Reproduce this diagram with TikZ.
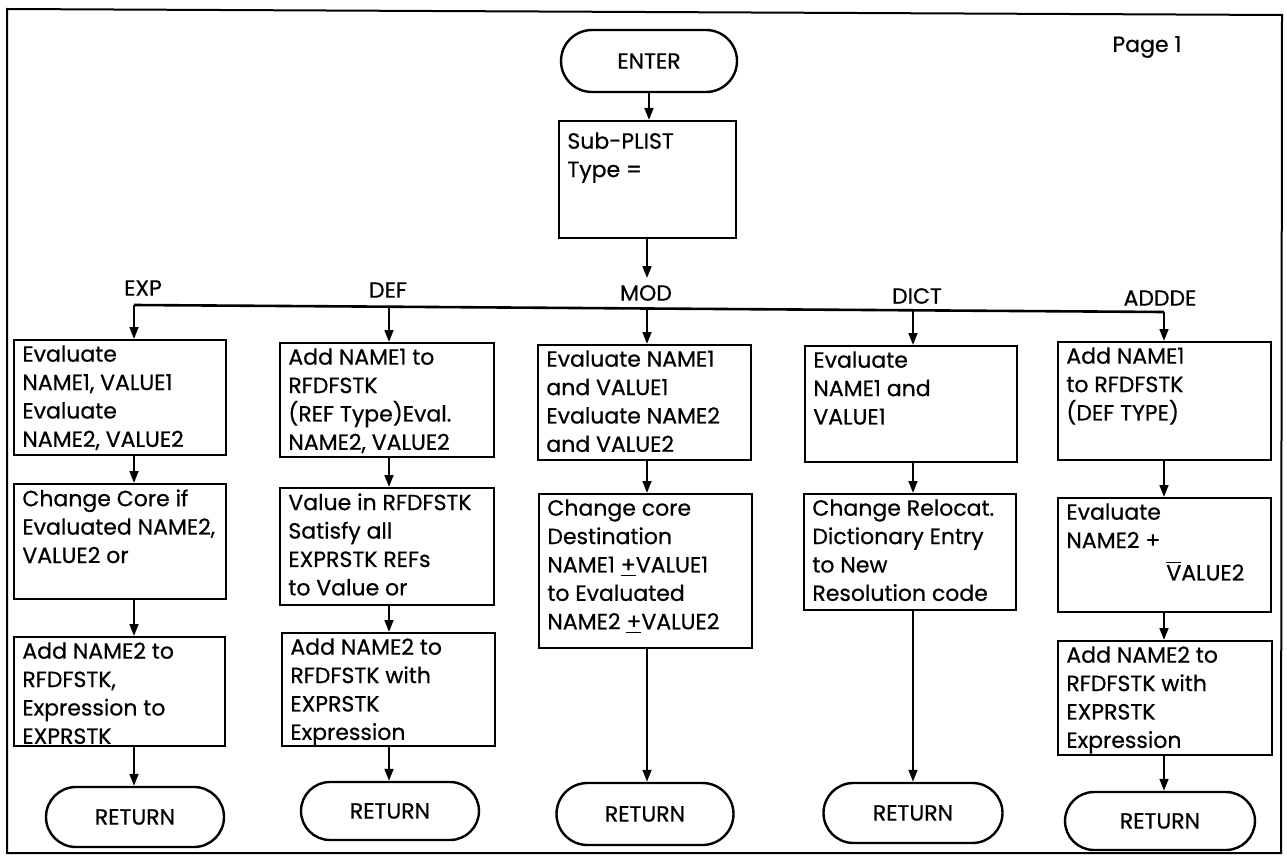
\documentclass[tikz,border=0pt]{standalone}
\usepackage{fontspec}
\setmainfont{Poppins}[FakeBold=0.6]
\usepackage{tikz}
\usetikzlibrary{arrows.meta, shapes.misc}

\tikzset{
  flow/.style={line width=1.1pt, -{Triangle[length=6pt,width=4.4pt]}},
  procbox/.style={draw, line width=1.2pt, anchor=north west, inner sep=0pt},
  boxtext/.style={anchor=north west, align=left, inner xsep=4.5pt, inner ysep=3pt},
  termnode/.style={draw, line width=1.2pt, rounded rectangle, inner sep=0pt},
}

\begin{document}
\begin{tikzpicture}[x=0.5pt, y=-0.5pt, font=\fontsize{11}{14.2}\selectfont]
  \useasboundingbox (0,0) rectangle (1287,856);
  \draw[line width=1pt] (7,9) -- (1282,15) -- (1281,853) -- (7,853) -- cycle;
  \node (page) at (1147,47) {Page 1};

  % entry and case switch
  \node[termnode, minimum width=88pt, minimum height=31pt] (enter) at (649,61) {ENTER};
  \node[procbox, minimum width=88.5pt, minimum height=58.5pt,
        label={[boxtext, inner ysep=6pt]north west:{Sub-PLIST\\Type =}}] (sub) at (558,120) {};
  \draw[flow] (enter.south) -- (enter.south |- sub.north);

  % branch bus
  \coordinate (bexp)  at (134,305);
  \coordinate (bdef)  at (389,306.7);
  \coordinate (bmod)  at (647,308.5);
  \coordinate (bdict) at (913,310.3);
  \coordinate (badd)  at (1164,312);
  \draw[line width=1.3pt] (bexp) -- (bdef) -- (bmod) -- (bdict) -- (badd);
  \node (lexp)  at (143,288) {EXP};
  \node (ldef)  at (388,290) {DEF};
  \node (lmod)  at (646,293) {MOD};
  \node (ldict) at (917,296) {DICT};
  \node (ladd)  at (1160,298) {ADDDE};
  \draw[flow] (sub.south -| bmod) -- (lmod.north -| bmod);

  % EXP column
  \node[procbox, minimum width=106pt, minimum height=57.5pt,
        label={[boxtext]north west:{Evaluate\\NAME1, VALUE1\\Evaluate\\NAME2, VALUE2}}] (exp1) at (13,339) {};
  \node[procbox, minimum width=106pt, minimum height=57.5pt,
        label={[boxtext]north west:{Change Core if\\Evaluated NAME2,\\VALUE2 or}}] (exp2) at (13,483) {};
  \node[procbox, minimum width=105.5pt, minimum height=54.5pt,
        label={[boxtext]north west:{Add NAME2 to\\RFDFSTK,\\Expression to\\EXPRSTK}}] (exp3) at (13,636) {};
  \node[termnode, minimum width=89pt, minimum height=30pt] (rexp) at (135,817) {RETURN};

  % DEF column
  \node[procbox, minimum width=107pt, minimum height=57pt,
        label={[boxtext]north west:{Add NAME1 to\\RFDFSTK\\(REF Type)Eval.\\NAME2, VALUE2}}] (def1) at (279,342) {};
  \node[procbox, minimum width=107pt, minimum height=58.5pt,
        label={[boxtext]north west:{Value in RFDFSTK\\Satisfy all\\EXPRSTK REFs\\to Value or}}] (def2) at (279,487) {};
  \node[procbox, minimum width=106.5pt, minimum height=56.5pt,
        label={[boxtext]north west:{Add NAME2 to\\RFDFSTK with\\EXPRSTK\\Expression}}] (def3) at (281,632) {};
  \node[termnode, minimum width=89pt, minimum height=29pt] (rdef) at (390,811) {RETURN};

  % MOD column
  \node[procbox, minimum width=106.5pt, minimum height=57.5pt,
        label={[boxtext]north west:{Evaluate NAME1\\and VALUE1\\Evaluate NAME2\\and VALUE2}}] (mod1) at (537,344) {};
  \node[procbox, minimum width=106.5pt, minimum height=77pt,
        label={[boxtext]north west:{Change core\\Destination\\NAME1 \underline{+}VALUE1\\to Evaluated\\NAME2 \underline{+}VALUE2}}] (mod2) at (538,493) {};
  \node[termnode, minimum width=88.5pt, minimum height=31pt] (rmod) at (645,814) {RETURN};

  % DICT column
  \node[procbox, minimum width=106pt, minimum height=58pt,
        label={[boxtext]north west:{Evaluate\\NAME1 and\\VALUE1}}] (dict1) at (804,345) {};
  \node[procbox, minimum width=106pt, minimum height=58pt,
        label={[boxtext]north west:{Change Relocat.\\Dictionary Entry\\to New\\Resolution code}}] (dict2) at (803,493) {};
  \node[termnode, minimum width=89.5pt, minimum height=30pt] (rdict) at (913,813) {RETURN};

  % ADDDE column
  \node[procbox, minimum width=106.5pt, minimum height=59pt,
        label={[boxtext]north west:{Add NAME1\\to RFDFSTK\\(DEF TYPE)}}] (add1) at (1057,341) {};
  \node[procbox, minimum width=106.5pt, minimum height=57pt,
        label={[boxtext]north west:{Evaluate\\NAME2 +\\[2pt]\hspace*{50pt}$\overline{\mbox{V}}$ALUE2}}] (add2) at (1057,497) {};
  \node[procbox, minimum width=107pt, minimum height=57pt,
        label={[boxtext]north west:{Add NAME2 to\\RFDFSTK with\\EXPRSTK\\Expression}}] (add3) at (1057,640) {};
  \node[termnode, minimum width=95pt, minimum height=29pt] (radd) at (1160,821) {RETURN};

  % connectors
  \foreach \col/\a/\b/\c/\r in {bexp/exp1/exp2/exp3/rexp, bdef/def1/def2/def3/rdef, badd/add1/add2/add3/radd} {
    \draw[flow] (\col) -- (\col |- \a.north);
    \draw[flow] (\a.south -| \col) -- (\b.north -| \col);
    \draw[flow] (\b.south -| \col) -- (\c.north -| \col);
    \draw[flow] (\c.south -| \col) -- (\r.north -| \col);
  }
  \foreach \col/\a/\b/\r in {bmod/mod1/mod2/rmod, bdict/dict1/dict2/rdict} {
    \draw[flow] (\col) -- (\col |- \a.north);
    \draw[flow] (\a.south -| \col) -- (\b.north -| \col);
    \draw[flow] (\b.south -| \col) -- (\r.north -| \col);
  }
\end{tikzpicture}
\end{document}
